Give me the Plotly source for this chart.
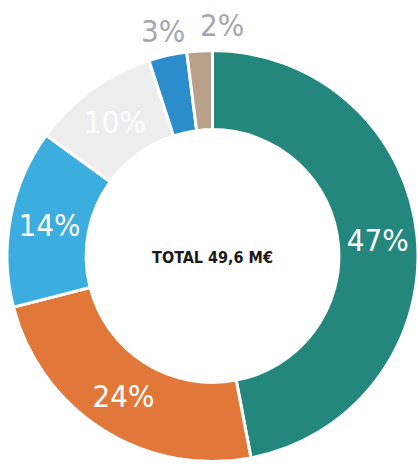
import math
import plotly.graph_objects as go

labels = ["A", "B", "C", "D", "E", "F"]
values = [47, 24, 14, 10, 3, 2]
text_labels = ["47%", "24%", "14%", "10%", "3%", "2%"]
colors = ["#23877e", "#e2773a", "#3badde", "#ededed", "#2b8dcc", "#b9a08a"]
inside_text_colors = ["white", "white", "white", "white", "white", "white"]
outside_color = "#a3a7ae"
center_text = "TOTAL 49,6 M€"

FONT = "DejaVu Sans Condensed, Liberation Sans Narrow, Roboto Condensed, sans-serif"

W, H = 418, 468
cx, cy, R = 213, 256, 206
small_limit = 5  # slices below this share get their label outside the ring

inside_text = [t if v >= small_limit else "" for t, v in zip(text_labels, values)]

fig = go.Figure(go.Pie(
    labels=labels,
    values=values,
    text=inside_text,
    textinfo="text",
    textposition="inside",
    insidetextorientation="horizontal",
    textfont=dict(family=FONT, size=31, color=inside_text_colors),
    hole=0.615,
    sort=False,
    direction="clockwise",
    rotation=0,
    marker=dict(colors=colors, line=dict(color="white", width=3)),
    domain=dict(x=[(cx - R) / W, 1.0], y=[(H - cy - R) / H, (H - cy + R) / H]),
    title=dict(text="<b>" + center_text + "</b>", position="middle center",
               font=dict(family=FONT, size=16, color="#1a1a1a")),
    showlegend=False,
    hoverinfo="skip",
    automargin=False,
))

# outside labels for the small slices, placed from the slice mid-angles
total = sum(values)
cum = 0
outside_small = [i for i, v in enumerate(values) if v < small_limit]
for i, v in enumerate(values):
    mid = (cum + v / 2) / total
    cum += v
    if v >= small_limit:
        continue
    ang = 2 * math.pi * mid
    r_lab = R + 25
    px = cx + r_lab * math.sin(ang)
    py = cy - r_lab * math.cos(ang)
    anchor = "center" if i == outside_small[0] else "left"
    fig.add_annotation(
        x=px / W, y=1 - py / H, xref="paper", yref="paper",
        text=text_labels[i], showarrow=False,
        xanchor=anchor, yanchor="middle",
        font=dict(family=FONT, size=31, color=outside_color),
    )

fig.update_layout(
    width=W, height=H,
    margin=dict(l=0, r=0, t=0, b=0),
    paper_bgcolor="white",
    plot_bgcolor="white",
)

fig.write_html("out.html", config={"displayModeBar": False},
               post_script="document.body.style.margin='0';")
